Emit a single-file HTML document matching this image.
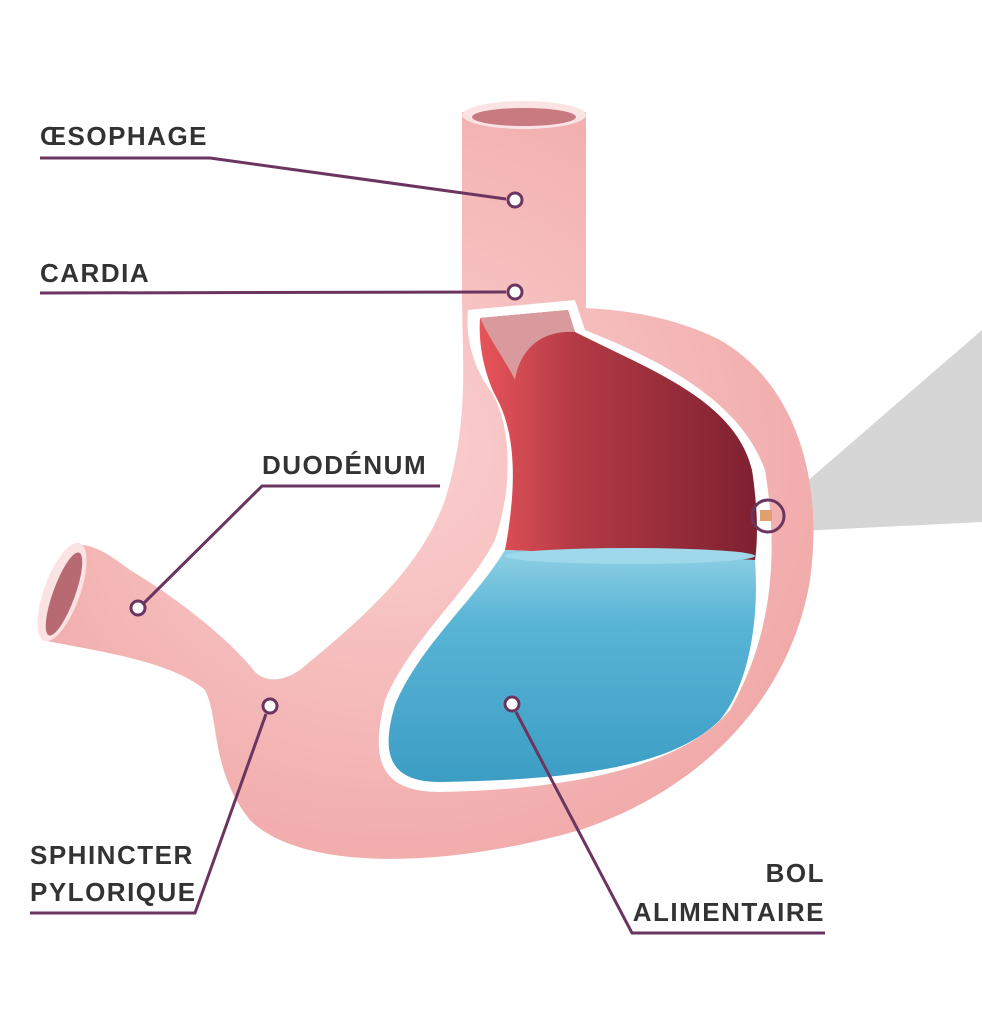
<!DOCTYPE html>
<html><head><meta charset="utf-8"><style>
html,body{margin:0;padding:0;background:#fff;width:982px;height:1024px;overflow:hidden}
svg text{font-family:"Liberation Sans",sans-serif;font-weight:bold;font-size:26px;fill:#333;letter-spacing:1.5px}
</style></head><body>
<svg width="982" height="1024" viewBox="0 0 982 1024" xmlns="http://www.w3.org/2000/svg">
<defs>
<linearGradient id="red" x1="0" y1="0" x2="1" y2="0">
<stop offset="0" stop-color="#e8545a"/><stop offset="0.35" stop-color="#b23a45"/><stop offset="1" stop-color="#7e2030"/>
</linearGradient>
<linearGradient id="blue" x1="0" y1="0" x2="0" y2="1">
<stop offset="0" stop-color="#8fd0e4"/><stop offset="0.3" stop-color="#5ab5d6"/><stop offset="1" stop-color="#3c9dc4"/>
</linearGradient>
<radialGradient id="pink" cx="0.45" cy="0.45" r="0.7">
<stop offset="0" stop-color="#fbd0d0"/><stop offset="1" stop-color="#efa3a3"/>
</radialGradient>
</defs>
<polygon points="768,515 982,330 982,522 780,532" fill="#d6d6d6"/>
<path d="M462,112 L462,290 C462,360 470,420 445,500 C420,570 360,620 300,670 C285,680 268,684 255,672 C230,640 180,600 130,570 C110,555 95,545 80,545 L42,640 C90,650 170,660 205,690 C220,720 210,770 250,820 C300,870 440,870 580,830 C700,790 790,700 810,580 C825,470 790,380 720,340 C670,315 620,310 586,308 L586,112 Z" fill="url(#pink)"/>
<ellipse cx="524" cy="115" rx="62" ry="14" fill="#fbe3e3"/>
<ellipse cx="524" cy="117" rx="52" ry="9" fill="#c97a80"/>
<ellipse cx="62" cy="592" rx="18" ry="52" transform="rotate(20 62 592)" fill="#fbe3e3"/>
<ellipse cx="64" cy="594" rx="11" ry="44" transform="rotate(20 64 594)" fill="#b86a72"/>
<path d="M468,310 L575,300 L585,330 C660,360 740,400 765,470 C780,560 770,640 730,710 C680,770 560,790 440,792 C380,792 370,760 385,700 C410,640 470,590 495,540 C515,480 510,420 490,390 C475,370 465,340 468,310 Z" fill="#fff"/>
<path d="M480,318 L568,310 L575,332 C650,370 735,400 752,470 C758,510 758,540 755,560 L505,550 C518,480 515,430 495,395 C485,375 478,345 480,318 Z" fill="url(#red)"/>
<path d="M480,318 L568,310 L575,332 C540,330 520,350 515,380 C505,360 490,340 480,318 Z" fill="#d99a9d"/>
<path d="M505,550 L755,560 C760,630 745,690 720,720 C670,770 560,780 440,782 C390,782 380,755 395,705 C420,645 475,600 505,550 Z" fill="url(#blue)"/>
<ellipse cx="630" cy="556" rx="125" ry="8" fill="#9fd8ea"/>
<circle cx="768" cy="516" r="16" fill="none" stroke="#6b3560" stroke-width="3"/>
<rect x="760" y="510" width="12" height="11" fill="#e0a070"/>
<g fill="none" stroke="#6b3560" stroke-width="3">
<polyline points="40,158 210,158 506,199"/>
<polyline points="40,293 506,292"/>
<polyline points="440,486 262,486 144,603"/>
<polyline points="30,913 195,913 266,714"/>
<polyline points="825,933 632,933 516,712"/>
</g>
<g fill="#fff" stroke="#6b3560" stroke-width="3">
<circle cx="515" cy="200" r="7"/>
<circle cx="515" cy="292" r="7"/>
<circle cx="138" cy="608" r="7"/>
<circle cx="270" cy="706" r="7"/>
<circle cx="512" cy="704" r="7"/>
</g>
<text x="40" y="145">ŒSOPHAGE</text>
<text x="40" y="282">CARDIA</text>
<text x="262" y="474">DUODÉNUM</text>
<text x="30" y="864">SPHINCTER</text>
<text x="30" y="901">PYLORIQUE</text>
<text x="825" y="882" text-anchor="end">BOL</text>
<text x="825" y="921" text-anchor="end">ALIMENTAIRE</text>
</svg>
</body></html>
